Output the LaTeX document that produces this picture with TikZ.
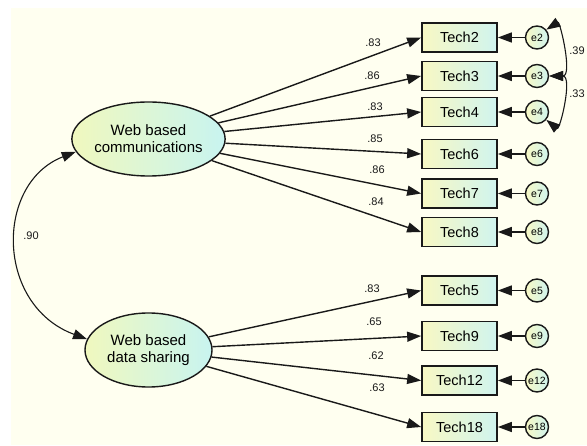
\documentclass[tikz,border=0pt]{standalone}
\usepackage{fontspec}
\setmainfont{Liberation Sans}
\usetikzlibrary{arrows.meta,shapes.geometric}
\definecolor{bg}{RGB}{255,255,240}
\definecolor{boxL}{RGB}{248,248,196}
\definecolor{boxR}{RGB}{208,244,238}
\definecolor{latL}{RGB}{240,248,190}
\definecolor{latR}{RGB}{200,244,240}
\definecolor{ink}{RGB}{25,25,25}
\begin{document}
\begin{tikzpicture}[x=1pt,y=1pt,
  obs/.style={draw=ink, line width=1.7pt, minimum width=75pt, minimum height=29pt, inner sep=0pt, left color=boxL, right color=boxR, font=\fontsize{14.5}{16}\selectfont},
  lat/.style={ellipse, draw=ink, line width=1.4pt, minimum width=127pt, minimum height=74pt, inner sep=0pt, left color=latL, right color=latR, align=center, font=\fontsize{15}{17}\selectfont},
  err/.style={circle, draw=ink, line width=1.4pt, minimum size=23pt, inner sep=0.5pt, left color=boxL, right color=boxR, font=\fontsize{10.5}{11}\selectfont},
  arr/.style={draw=ink, line width=1.4pt, -{Triangle[length=14pt,width=10pt]}},
  cov/.style={draw=ink, line width=1.1pt, {Triangle[length=14pt,width=10pt]}-{Triangle[length=14pt,width=10pt]}},
  lbl/.style={text=ink, inner sep=0pt, font=\fontsize{11}{12}\selectfont},
]
\useasboundingbox (0,0) rectangle (587,445);
\fill[bg] (11,0) rectangle (587,437);

% latent variables
\node[lat] (comm) at (148.5,306) {Web based\\communications};
\node[lat] (share) at (148.5,95) {Web based\\data sharing};

% observed variables
\node[obs] (t2) at (459.5,407.5) {Tech2};
\node[obs] (t3) at (459.5,369) {Tech3};
\node[obs] (t4) at (459.5,333) {Tech4};
\node[obs] (t6) at (459.5,291) {Tech6};
\node[obs] (t7) at (459.5,251.5) {Tech7};
\node[obs] (t8) at (459.5,213) {Tech8};
\node[obs] (t5) at (459.5,154.5) {Tech5};
\node[obs] (t9) at (459.5,109) {Tech9};
\node[obs] (t12) at (459.5,64.5) {Tech12};
\node[obs] (t18) at (459.5,18) {Tech18};

% error terms
\node[err] (e2) at (537,407.5) {e2};
\node[err] (e3) at (537,369) {e3};
\node[err] (e4) at (537,333) {e4};
\node[err] (e6) at (537,291) {e6};
\node[err] (e7) at (537,251.5) {e7};
\node[err] (e8) at (537,213) {e8};
\node[err] (e5) at (537,154.5) {e5};
\node[err] (e9) at (537,109) {e9};
\node[err] (e12) at (537,64.5) {e12};
\node[err] (e18) at (537,18) {e18};

% loadings
\foreach \t in {t2,t3,t4,t6,t7,t8} \draw[arr] (comm) -- (\t.west);
\foreach \t in {t5,t9,t12,t18} \draw[arr] (share) -- (\t.west);

% error paths
\foreach \e/\t in {e2/t2,e3/t3,e4/t4,e6/t6,e7/t7,e8/t8,e5/t5,e9/t9,e12/t12,e18/t18}
  \draw[arr] (\e) -- (\t);

% covariances
\draw[cov] (e2.40) .. controls (560,424) and (573,369) .. (e3.east);
\draw[cov] (e3.east) .. controls (573,369) and (560,314) .. (e4.-40);
\draw[cov] (comm.190) .. controls (-5,262) and (-5,140) .. (share.170);

% labels
\node[lbl] (l2) at (373,402) {.83};
\node[lbl] (l3) at (372,369) {.86};
\node[lbl] (l4) at (375,338) {.83};
\node[lbl] (l6) at (375,306) {.85};
\node[lbl] (l7) at (377,275) {.86};
\node[lbl] (l8) at (376,243) {.84};
\node[lbl] (l5) at (372,156) {.83};
\node[lbl] (l9) at (374,123) {.65};
\node[lbl] (l12) at (376,89) {.62};
\node[lbl] (l18) at (377,57) {.63};
\node[lbl] (c23) at (577,394) {.39};
\node[lbl] (c34) at (577,351) {.33};
\node[lbl] (c90) at (31,209.5) {.90};
\end{tikzpicture}
\end{document}
